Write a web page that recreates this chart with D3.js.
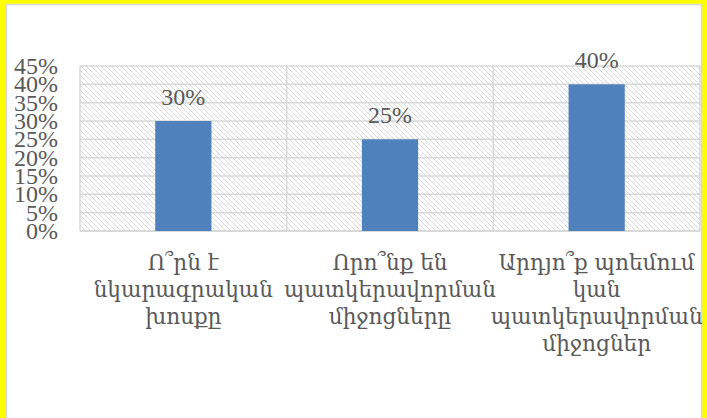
<!DOCTYPE html>
<html>
<head>
<meta charset="utf-8">
<script src="https://cdn.jsdelivr.net/npm/d3@7"></script>
<style>
  html, body { margin: 0; padding: 0; overflow: hidden; background: #ffff00; }
  #chart { width: 707px; height: 418px; }
</style>
</head>
<body>
<div id="chart"></div>
<script>
// data
const categories = [
  "Ո՞րն է\nնկարագրական\nխոսքը",
  "Որո՞նք են\nպատկերավորման\nմիջոցները",
  "Արդյո՞ք պոեմում\nկան\nպատկերավորման\nմիջոցներ"
];
const values = [0.30, 0.25, 0.40];
const yTicks = [0, 0.05, 0.10, 0.15, 0.20, 0.25, 0.30, 0.35, 0.40, 0.45];

const W = 707, H = 418;
const plot = { left: 80, right: 700, top: 66, bottom: 231 };
const textColor = '#595959', gridColor = '#d9d9d9', barColor = '#4f81bd';
const numFont = '"Liberation Serif", "DejaVu Serif", serif';
const catFont = '"DejaVu Serif", "DejaVu Sans", serif';

const svg = d3.select('#chart').append('svg')
    .attr('width', W).attr('height', H);

// chart area: white box with light border on the yellow page
svg.append('rect')
    .attr('x', 6.5).attr('y', 4.5).attr('width', 695).attr('height', H)
    .attr('fill', '#fff').attr('stroke', gridColor).attr('stroke-width', 1.5);

const defs = svg.append('defs');
const pat = defs.append('pattern')
    .attr('id', 'hatch').attr('patternUnits', 'userSpaceOnUse')
    .attr('width', 5).attr('height', 5);
pat.append('rect').attr('width', 5).attr('height', 5).attr('fill', '#fff');
pat.append('path')
    .attr('d', 'M-1,-1 L6,6 M-1,4 L1,6 M4,-1 L6,1')
    .attr('stroke', '#dadada').attr('stroke-width', 1);

const x = d3.scaleBand().domain(categories)
    .range([plot.left, plot.right]).padding(0);
const y = d3.scaleLinear().domain([0, 0.45])
    .range([plot.bottom, plot.top]);
const barW = x.bandwidth() * 0.272;

// hatched plot background
svg.append('rect')
    .attr('x', plot.left).attr('y', plot.top)
    .attr('width', plot.right - plot.left).attr('height', plot.bottom - plot.top)
    .attr('fill', 'url(#hatch)');

// horizontal gridlines
svg.append('g').selectAll('line').data(yTicks).join('line')
    .attr('x1', plot.left).attr('x2', plot.right)
    .attr('y1', d => y(d)).attr('y2', d => y(d))
    .attr('stroke', gridColor).attr('stroke-width', d => d === 0 ? 2 : 1.5);

// vertical lines at category edges
const edges = categories.map(c => x(c)).concat([plot.right]);
svg.append('g').selectAll('line').data(edges).join('line')
    .attr('x1', d => d).attr('x2', d => d)
    .attr('y1', plot.top).attr('y2', plot.bottom)
    .attr('stroke', gridColor).attr('stroke-width', 1.5);

// y tick labels
svg.append('g').selectAll('text').data(yTicks).join('text')
    .attr('x', 58).attr('y', d => y(d) + 8)
    .attr('text-anchor', 'end')
    .attr('font-family', numFont).attr('font-size', 24)
    .attr('fill', textColor)
    .text(d3.format('.0%'));

// bars
svg.append('g').selectAll('rect').data(values).join('rect')
    .attr('x', (d, i) => x(categories[i]) + x.bandwidth() / 2 - barW / 2)
    .attr('y', d => y(d))
    .attr('width', barW)
    .attr('height', d => y(0) - y(d))
    .attr('fill', barColor);

// value labels
svg.append('g').selectAll('text').data(values).join('text')
    .attr('x', (d, i) => x(categories[i]) + x.bandwidth() / 2)
    .attr('y', d => y(d) - 16)
    .attr('text-anchor', 'middle')
    .attr('font-family', numFont).attr('font-size', 24)
    .attr('fill', textColor)
    .text(d3.format('.0%'));

// category labels
const cat = svg.append('g').selectAll('text').data(categories).join('text')
    .attr('text-anchor', 'middle')
    .attr('font-family', catFont).attr('font-size', 21.6)
    .attr('fill', textColor);
cat.selectAll('tspan').data(d => d.split('\n').map(t => ({ t, c: d }))).join('tspan')
    .attr('x', d => x(d.c) + x.bandwidth() / 2)
    .attr('y', (d, i) => 270 + i * 27)
    .text(d => d.t);
</script>
</body>
</html>
